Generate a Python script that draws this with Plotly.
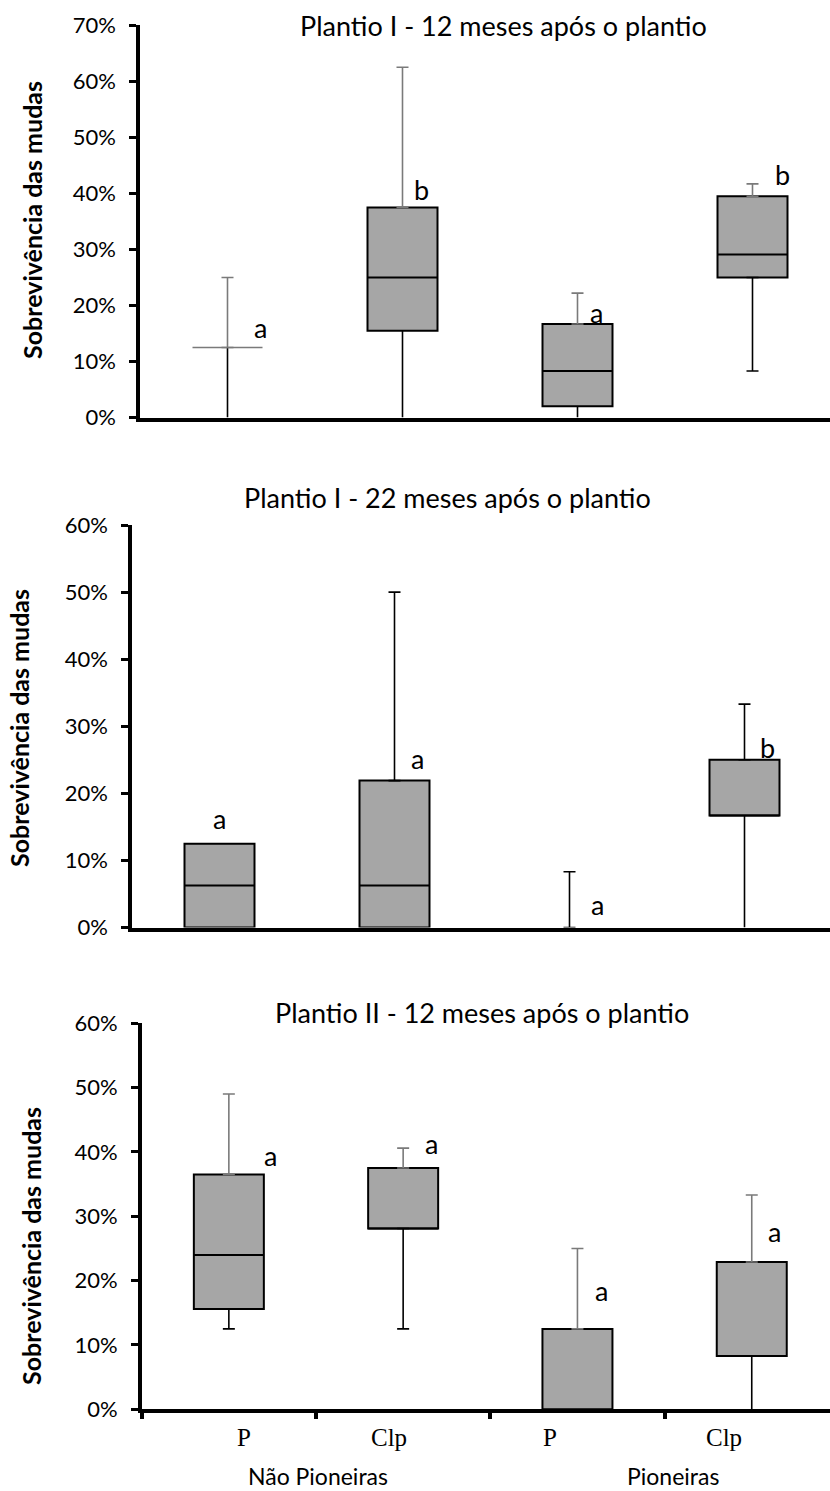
import plotly.graph_objects as go

# ---------------- data ----------------
categories = ["Não Pioneiras P", "Não Pioneiras Clp", "Pioneiras P", "Pioneiras Clp"]
tick_labels = ["P", "Clp", "P", "Clp"]
group_labels = ["Não Pioneiras", "Pioneiras"]
titles = ["Plantio I - 12 meses após o plantio",
          "Plantio I - 22 meses após o plantio",
          "Plantio II - 12 meses após o plantio"]
y_title = "Sobrevivência das mudas"

# panel 1 : Plantio I - 12 meses
p1_min = [0.0, 0.0, 0.0, 0.083]
p1_q1 = [0.125, 0.155, 0.020, 0.250]
p1_med = [0.125, 0.250, 0.083, 0.291]
p1_q3 = [0.125, 0.375, 0.167, 0.395]
p1_max = [0.250, 0.625, 0.222, 0.417]
p1_letters = ["a", "b", "a", "b"]
p1_letter_y = [0.157, 0.403, 0.184, 0.430]
p1_letter_dx = [0.19, 0.11, 0.11, 0.17]

# panel 2 : Plantio I - 22 meses
p2_min = [0.0, 0.0, 0.0, 0.0]
p2_q1 = [0.0, 0.0, 0.0, 0.167]
p2_med = [0.0625, 0.0625, 0.0, 0.167]
p2_q3 = [0.125, 0.219, 0.0, 0.250]
p2_max = [0.125, 0.500, 0.083, 0.333]
p2_letters = ["a", "a", "a", "b"]
p2_letter_y = [0.159, 0.249, 0.032, 0.265]
p2_letter_dx = [0.0, 0.13, 0.16, 0.13]

# panel 3 : Plantio II - 12 meses
p3_min = [0.125, 0.125, 0.0, 0.0]
p3_q1 = [0.156, 0.281, 0.0, 0.083]
p3_med = [0.240, 0.281, 0.0, 0.083]
p3_q3 = [0.365, 0.375, 0.125, 0.229]
p3_max = [0.490, 0.406, 0.250, 0.333]
p3_letters = ["a", "a", "a", "a"]
p3_letter_y = [0.392, 0.410, 0.182, 0.273]
p3_letter_dx = [0.24, 0.16, 0.14, 0.13]

# ---------------- styling / layout ----------------
W, H = 830, 1491
FONT = "Lato"
BOX_FILL = "#A6A6A6"
GREY = "#7a7a7a"
BOX_PX = 70.0

panels = [
    dict(mn=p1_min, q1=p1_q1, med=p1_med, q3=p1_q3, mx=p1_max,
         letters=p1_letters, ly=p1_letter_y, ldx=p1_letter_dx,
         left=140, top=25.3, bottom=417.5, ymax=0.70, upper_grey=True,
         title_x=503, title_y=25, ytitle_x=32, ytitle_y=220, xticks=False, cat_px=175.0),
    dict(mn=p2_min, q1=p2_q1, med=p2_med, q3=p2_q3, mx=p2_max,
         letters=p2_letters, ly=p2_letter_y, ldx=p2_letter_dx,
         left=132, top=525, bottom=927.5, ymax=0.60, upper_grey=False,
         title_x=447, title_y=498, ytitle_x=19, ytitle_y=728, xticks=False, cat_px=175.0),
    dict(mn=p3_min, q1=p3_q1, med=p3_med, q3=p3_q3, mx=p3_max,
         letters=p3_letters, ly=p3_letter_y, ldx=p3_letter_dx,
         left=141.7, top=1023.3, bottom=1409.3, ymax=0.60, upper_grey=True,
         title_x=482, title_y=1012, ytitle_x=31, ytitle_y=1246, xticks=True, cat_px=174.3),
]

fig = go.Figure()
annotations = []
layout_axes = {}
EPS = 1e-9

for k, p in enumerate(panels, start=1):
    xa = "x" if k == 1 else f"x{k}"
    ya = "y" if k == 1 else f"y{k}"
    xs = list(range(len(categories)))
    box_w = BOX_PX / p["cat_px"]
    up_col = GREY if p["upper_grey"] else "black"

    # box (q1 -> q3); collapsed boxes are not drawn as bars
    heights = [(b - a) if (b - a) > EPS else None for a, b in zip(p["q1"], p["q3"])]
    fig.add_trace(go.Bar(
        x=xs, y=heights, base=p["q1"],
        width=box_w, marker=dict(color=BOX_FILL, line=dict(color="black", width=2)),
        xaxis=xa, yaxis=ya, hoverinfo="skip", showlegend=False))

    for i in xs:
        # lower whisker (black), cap hidden when it sits on the axis
        if p["q1"][i] - p["mn"][i] > EPS:
            fig.add_trace(go.Scatter(
                x=[i], y=[p["q1"][i]], mode="markers",
                marker=dict(size=1, color="rgba(0,0,0,0)"),
                error_y=dict(type="data", symmetric=False, array=[0],
                             arrayminus=[p["q1"][i] - p["mn"][i]], color="black",
                             thickness=1.6, width=6 if p["mn"][i] > EPS else 0),
                xaxis=xa, yaxis=ya, hoverinfo="skip", showlegend=False))
        # upper whisker
        if p["mx"][i] - p["q3"][i] > EPS:
            fig.add_trace(go.Scatter(
                x=[i], y=[p["q3"][i]], mode="markers",
                marker=dict(size=1, color="rgba(0,0,0,0)"),
                error_y=dict(type="data", symmetric=False,
                             array=[p["mx"][i] - p["q3"][i]], arrayminus=[0],
                             color=up_col, thickness=1.6, width=6),
                xaxis=xa, yaxis=ya, hoverinfo="skip", showlegend=False))
        # median (line-ew marker spans 1.4 * size px)
        if p["med"][i] > EPS:
            flat = abs(p["q1"][i] - p["q3"][i]) < EPS
            fig.add_trace(go.Scatter(
                x=[i], y=[p["med"][i]], mode="markers",
                marker=dict(symbol="line-ew", size=BOX_PX / 1.4,
                            line=dict(color=GREY if flat else "black", width=1.6 if flat else 2)),
                xaxis=xa, yaxis=ya, hoverinfo="skip", showlegend=False))

    # axes
    x0 = p["left"] / W
    y0 = 1 - p["bottom"] / H
    y1 = 1 - p["top"] / H
    width_units = (W - p["left"]) / p["cat_px"]
    xkey = "xaxis" if k == 1 else f"xaxis{k}"
    ykey = "yaxis" if k == 1 else f"yaxis{k}"
    layout_axes[xkey] = dict(
        domain=[x0, 1], range=[-0.5, -0.5 + width_units], anchor=ya, automargin=False,
        showgrid=False, zeroline=False, showline=True, linecolor="black", linewidth=3.5,
        ticks="outside" if p["xticks"] else "", tickvals=[-0.5, 0.5, 1.5, 2.5],
        ticklen=6, tickwidth=3.5, tickcolor="black", showticklabels=False, fixedrange=True)
    layout_axes[ykey] = dict(
        domain=[y0, y1], range=[0, p["ymax"]], anchor=xa, automargin=False,
        showgrid=False, zeroline=False, showline=True, linecolor="black", linewidth=3.5,
        ticks="outside", ticklen=7, tickwidth=3, tickcolor="black",
        dtick=0.1, tick0=0, tickformat=".0%", ticklabelstandoff=9,
        tickfont=dict(family=FONT, size=22, color="black"), fixedrange=True)

    # title
    annotations.append(dict(text=titles[k - 1], x=p["title_x"] / W, y=1 - p["title_y"] / H,
                            xref="paper", yref="paper", showarrow=False,
                            xanchor="center", yanchor="middle",
                            font=dict(family=FONT, size=27, color="black")))
    # y-axis title
    annotations.append(dict(text="<b>" + y_title + "</b>", x=p["ytitle_x"] / W,
                            y=1 - p["ytitle_y"] / H, xref="paper", yref="paper",
                            showarrow=False, textangle=-90, xanchor="center", yanchor="middle",
                            font=dict(family=FONT, size=25, color="black")))
    # significance letters
    for i, (t, ly, dx) in enumerate(zip(p["letters"], p["ly"], p["ldx"])):
        annotations.append(dict(text=t, x=i + dx, y=ly, xref=xa, yref=ya, showarrow=False,
                                xanchor="center", yanchor="middle", yshift=2,
                                font=dict(family=FONT, size=27, color="black")))

# category labels (bottom panel)
label_px = [244, 389, 550, 724]
for t, px in zip(tick_labels, label_px):
    annotations.append(dict(text=t, x=px / W, y=1 - 1437 / H, xref="paper", yref="paper",
                            showarrow=False, xanchor="center", yanchor="middle",
                            font=dict(family="Liberation Serif", size=25, color="black")))
for t, px in zip(group_labels, [318, 673]):
    annotations.append(dict(text=t, x=px / W, y=1 - 1476 / H, xref="paper", yref="paper",
                            showarrow=False, xanchor="center", yanchor="middle",
                            font=dict(family=FONT, size=23, color="black")))

fig.update_layout(
    template="none",
    width=W, height=H, margin=dict(l=0, r=0, t=0, b=0, pad=0, autoexpand=False),
    paper_bgcolor="white", plot_bgcolor="white", showlegend=False,
    barmode="overlay", annotations=annotations, **layout_axes)

fig.write_html("out.html", config={"displayModeBar": False})
